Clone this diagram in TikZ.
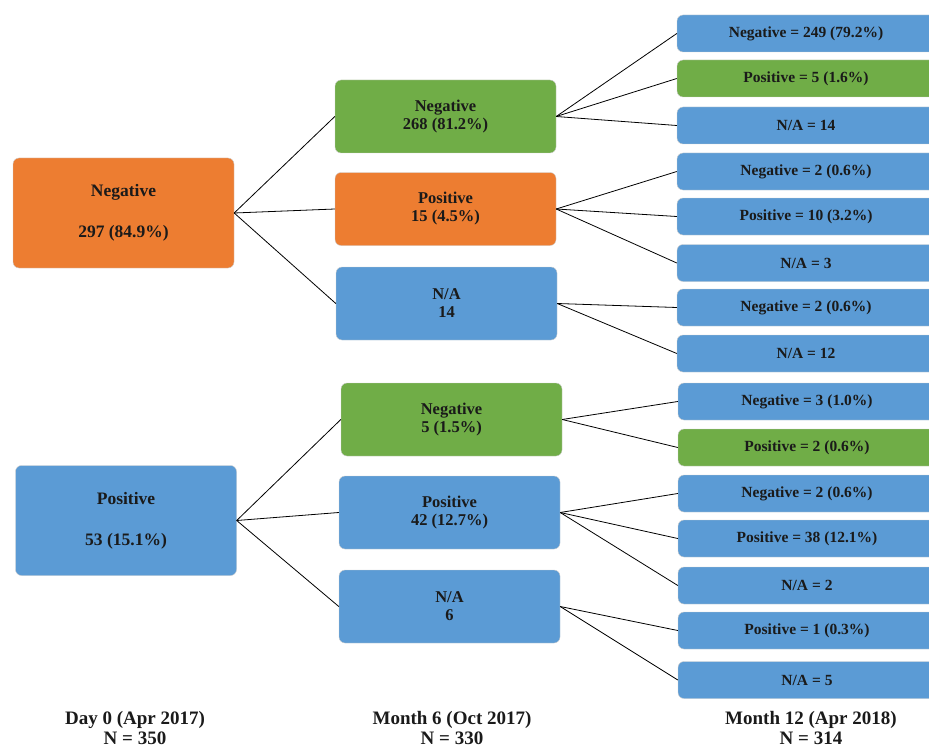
\documentclass[tikz,border=0pt]{standalone}
\usepackage{fontspec}
\setmainfont{Liberation Serif}
\definecolor{orng}{HTML}{ED7D31}
\definecolor{grn}{HTML}{70AD47}
\definecolor{blu}{HTML}{5B9BD5}
\definecolor{ink}{HTML}{1A1A1A}
\begin{document}
\begin{tikzpicture}[x=1pt,y=-1pt,
  box/.style={rounded corners=6pt, draw=white!80!black, line width=0.4pt, align=center, text=ink, inner sep=0pt},
  lzero/.style={box, minimum width=221pt, minimum height=110pt, font=\bfseries\fontsize{17.5}{41}\selectfont},
  lone/.style={box, minimum width=221pt, minimum height=73pt, font=\bfseries\fontsize{16.5}{18}\selectfont},
  ltwo/.style={box, minimum width=258pt, minimum height=37pt, font=\bfseries\fontsize{15.5}{18}\selectfont},
  lbl/.style={align=center, text=ink, font=\bfseries\fontsize{19}{19.5}\selectfont},
  con/.style={draw=black, line width=0.8pt}]
\useasboundingbox (0,0) rectangle (929,749);
% level 0
\node[lzero, fill=orng] (a) at (123.5,213) {Negative\\297 (84.9\%)};
\node[lzero, fill=blu]  (b) at (126,520.5) {Positive\\53 (15.1\%)};
% level 1
\node[lone, fill=grn]  (a1) at (445.5,116.5) {Negative\\268 (81.2\%)};
\node[lone, fill=orng] (a2) at (445.5,209) {Positive\\15 (4.5\%)};
\node[lone, fill=blu]  (a3) at (446.5,303.5) {N/A\\14};
\node[lone, fill=grn]  (b1) at (451.5,419.5) {Negative\\5 (1.5\%)};
\node[lone, fill=blu]  (b2) at (449.5,512.5) {Positive\\42 (12.7\%)};
\node[lone, fill=blu]  (b3) at (449.5,606.5) {N/A\\6};
% level 2
\node[ltwo, fill=blu] (c1)  at (806,33.5)  {Negative = 249 (79.2\%)};
\node[ltwo, fill=grn] (c2)  at (806,78.5)  {Positive = 5 (1.6\%)};
\node[ltwo, fill=blu] (c3)  at (806,125.5) {N/A = 14};
\node[ltwo, fill=blu] (c4)  at (806,171.5) {Negative = 2 (0.6\%)};
\node[ltwo, fill=blu] (c5)  at (806,216.5) {Positive = 10 (3.2\%)};
\node[ltwo, fill=blu] (c6)  at (806,263)   {N/A = 3};
\node[ltwo, fill=blu] (c7)  at (806,307.5) {Negative = 2 (0.6\%)};
\node[ltwo, fill=blu] (c8)  at (806,353.5) {N/A = 12};
\node[ltwo, fill=blu] (c9)  at (807,401.5) {Negative = 3 (1.0\%)};
\node[ltwo, fill=grn] (c10) at (807,447.5) {Positive = 2 (0.6\%)};
\node[ltwo, fill=blu] (c11) at (807,493.5) {Negative = 2 (0.6\%)};
\node[ltwo, fill=blu] (c12) at (807,538.5) {Positive = 38 (12.1\%)};
\node[ltwo, fill=blu] (c13) at (807,585.5) {N/A = 2};
\node[ltwo, fill=blu] (c14) at (807,630.5) {Positive = 1 (0.3\%)};
\node[ltwo, fill=blu] (c15) at (807,680)   {N/A = 5};
% connectors
\foreach \s/\t in {a/a1,a/a2,a/a3,b/b1,b/b2,b/b3,
  a1/c1,a1/c2,a1/c3,a2/c4,a2/c5,a2/c6,a3/c7,a3/c8,
  b1/c9,b1/c10,b2/c11,b2/c12,b2/c13,b3/c14,b3/c15}
  \draw[con] (\s.east) -- (\t.west);
% bottom labels
\node[lbl] (d0) at (135,728) {Day 0 (Apr 2017)\\N = 350};
\node[lbl] (d6) at (452,728) {Month 6 (Oct 2017)\\N = 330};
\node[lbl] (d12) at (811,728) {Month 12 (Apr 2018)\\N = 314};
\end{tikzpicture}
\end{document}
